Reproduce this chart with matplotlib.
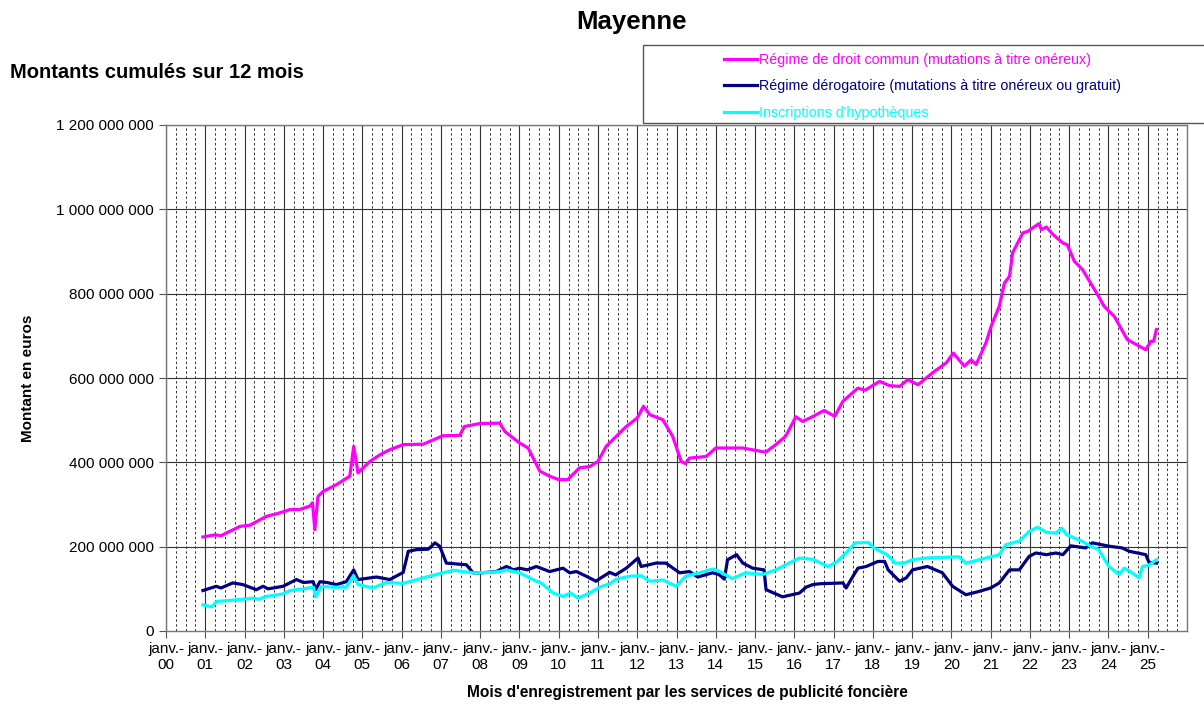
import matplotlib.pyplot as plt
from matplotlib.patches import Rectangle
from matplotlib.ticker import FuncFormatter

plt.rcParams['font.family'] = ['Liberation Sans', 'DejaVu Sans']

# values: (decimal year, millions of euros)
commun_dates = [2000.94, 2001.25, 2001.4, 2001.88, 2002.14, 2002.56, 2002.82, 2003.16, 2003.4,
                2003.66, 2003.73, 2003.79, 2003.87, 2004.0, 2004.34, 2004.68, 2004.78, 2004.89,
                2005.19, 2005.45, 2005.7, 2006.04, 2006.55, 2007.05, 2007.48, 2007.6, 2007.99,
                2008.5, 2008.63, 2009.0, 2009.22, 2009.52, 2009.77, 2010.0, 2010.23, 2010.53,
                2010.79, 2011.0, 2011.21, 2011.72, 2012.0, 2012.16, 2012.32, 2012.65, 2012.9,
                2013.12, 2013.23, 2013.33, 2013.76, 2014.0, 2014.68, 2015.27, 2015.53, 2015.78,
                2016.04, 2016.21, 2016.46, 2016.76, 2017.03, 2017.24, 2017.62, 2017.8, 2018.17,
                2018.42, 2018.68, 2018.89, 2019.15, 2019.53, 2019.87, 2020.05, 2020.33, 2020.5,
                2020.63, 2020.88, 2021.01, 2021.22, 2021.35, 2021.48, 2021.56, 2021.82, 2021.95,
                2022.07, 2022.23, 2022.29, 2022.42, 2022.59, 2022.84, 2022.95, 2023.13, 2023.34,
                2023.72, 2023.89, 2024.15, 2024.48, 2024.95, 2025.08, 2025.15, 2025.22]
commun_vals = [223, 228, 226, 248, 251, 272, 278, 288, 288,
               296, 304, 240, 319, 331, 347, 367, 438, 375,
               402, 418, 430, 442, 443, 463, 464, 485, 492,
               493, 473, 446, 434, 379, 367, 359, 359, 387,
               390, 402, 438, 485, 505, 533, 513, 501, 462,
               402, 397, 410, 414, 434, 434, 424, 442, 462,
               508, 497, 508, 523, 509, 545, 576, 571, 592,
               582, 580, 596, 584, 613, 636, 659, 628, 643,
               632, 683, 722, 770, 825, 841, 897, 944, 948,
               956, 966, 952, 958, 940, 920, 916, 877, 857,
               798, 770, 746, 691, 667, 687, 687, 715]

derog_dates = [2000.94, 2001.28, 2001.4, 2001.7, 2001.96, 2002.3, 2002.47, 2002.6, 2002.98,
               2003.32, 2003.5, 2003.75, 2003.81, 2003.92, 2004.1, 2004.34, 2004.59, 2004.78,
               2004.89, 2005.36, 2005.7, 2006.04, 2006.17, 2006.38, 2006.68, 2006.85, 2006.97,
               2007.14, 2007.65, 2007.82, 2008.05, 2008.41, 2008.67, 2008.85, 2009.0, 2009.2,
               2009.43, 2009.77, 2010.11, 2010.28, 2010.45, 2010.7, 2010.95, 2011.04, 2011.3,
               2011.45, 2011.72, 2012.02, 2012.1, 2012.48, 2012.73, 2013.08, 2013.33, 2013.54,
               2013.92, 2014.08, 2014.22, 2014.3, 2014.53, 2014.69, 2014.94, 2015.23, 2015.28,
               2015.7, 2016.13, 2016.3, 2016.47, 2016.64, 2017.24, 2017.32, 2017.45, 2017.62,
               2017.83, 2018.13, 2018.3, 2018.39, 2018.68, 2018.85, 2019.01, 2019.39, 2019.77,
               2020.03, 2020.37, 2020.71, 2021.0, 2021.22, 2021.48, 2021.73, 2021.98, 2022.15,
               2022.42, 2022.66, 2022.84, 2023.04, 2023.42, 2023.59, 2024.02, 2024.35, 2024.53,
               2024.95, 2025.03, 2025.22]
derog_vals = [96, 106, 102, 114, 110, 98, 106, 100, 106,
              122, 115, 117, 98, 117, 115, 110, 117, 145,
              122, 128, 122, 139, 189, 193, 194, 209, 201,
              161, 157, 138, 138, 141, 153, 145, 149, 145,
              153, 141, 149, 138, 141, 130, 118, 124, 139,
              133, 149, 173, 153, 161, 161, 138, 141, 128,
              138, 134, 123, 169, 181, 161, 149, 145, 98,
              81, 90, 104, 110, 112, 114, 102, 123, 149,
              153, 165, 165, 145, 118, 126, 145, 153, 138,
              106, 86, 94, 102, 114, 145, 145, 177, 185,
              181, 185, 181, 202, 197, 209, 201, 197, 189,
              181, 163, 161]

hypo_dates = [2000.94, 2001.16, 2001.29, 2001.8, 2002.23, 2002.35, 2002.56, 2002.98, 2003.16,
              2003.5, 2003.75, 2003.81, 2003.96, 2004.2, 2004.59, 2004.78, 2004.89, 2005.27,
              2005.61, 2006.04, 2006.55, 2007.05, 2007.31, 2007.82, 2008.24, 2008.5, 2008.67,
              2009.0, 2009.43, 2009.55, 2009.86, 2010.11, 2010.3, 2010.49, 2010.79, 2011.04,
              2011.3, 2011.47, 2011.81, 2012.1, 2012.32, 2012.65, 2012.99, 2013.24, 2013.59,
              2013.92, 2014.1, 2014.42, 2014.76, 2015.19, 2015.53, 2015.78, 2016.13, 2016.47,
              2016.86, 2017.07, 2017.32, 2017.55, 2017.89, 2018.02, 2018.36, 2018.57, 2018.8,
              2019.01, 2019.35, 2020.19, 2020.37, 2020.71, 2021.22, 2021.39, 2021.73, 2021.98,
              2022.19, 2022.42, 2022.66, 2022.81, 2022.94, 2023.32, 2023.54, 2023.75, 2024.01,
              2024.27, 2024.4, 2024.55, 2024.78, 2024.87, 2025.03, 2025.22]
hypo_vals = [62, 57, 70, 74, 78, 75, 82, 88, 96,
             100, 104, 81, 106, 104, 104, 131, 110, 102,
             115, 113, 126, 138, 144, 138, 139, 141, 145,
             138, 118, 114, 90, 82, 90, 78, 90, 104,
             112, 123, 130, 131, 118, 121, 106, 130, 138,
             147, 141, 124, 138, 134, 145, 157, 173, 170,
             153, 163, 185, 209, 210, 197, 181, 161, 161,
             169, 173, 176, 161, 169, 181, 205, 213, 236,
             246, 234, 232, 244, 228, 213, 201, 193, 153,
             134, 149, 141, 126, 153, 156, 169]

years = list(range(2000, 2026))
year_labels = ['janv.-\n%02d' % (y % 100) for y in years]

fig = plt.figure(figsize=(12.04, 7.10), dpi=100)
ax = fig.add_axes([166 / 1204, 1 - 631 / 710, (1187 - 166) / 1204, (631 - 125) / 710])

# grid: solid on each january, dashed on the quarters
for y in years:
    ax.axvline(y, color='#333333', lw=0.8, zorder=1)
    for q in (0.25, 0.5, 0.75):
        ax.axvline(y + q, color='#333333', lw=0.7, ls=(0, (2.5, 2.5)), zorder=1)
for v in range(200, 1201, 200):
    ax.axhline(v * 1e6, color='#333333', lw=0.8, zorder=1)

ax.plot(commun_dates, [v * 1e6 for v in commun_vals], color='#FF00FF', lw=2.3,
        label='Régime de droit commun (mutations à titre onéreux)', zorder=3)
ax.plot(derog_dates, [v * 1e6 for v in derog_vals], color='#000080', lw=2.3,
        label='Régime dérogatoire (mutations à titre onéreux ou gratuit)', zorder=3)
ax.plot(hypo_dates, [v * 1e6 for v in hypo_vals], color='#00FFFF', lw=2.3,
        label="Inscriptions d'hypothèques", zorder=3)

ax.set_xlim(2000, 2026)
ax.set_ylim(0, 1.2e9)
ax.set_xticks(years)
ax.set_xticklabels(year_labels, fontsize=11)
ax.set_yticks([i * 2e8 for i in range(7)])
ax.yaxis.set_major_formatter(FuncFormatter(lambda v, p: '{:,.0f}'.format(v).replace(',', ' ')))
ax.tick_params(axis='y', labelsize=11, length=5, width=0.8, color='#555555')
ax.tick_params(axis='x', length=5, width=0.8, color='#555555', pad=3)
for s in ax.spines.values():
    s.set_color('#777777')
    s.set_linewidth(1.0)

ax.set_ylabel('Montant en euros', fontsize=11, fontweight='bold')
ax.yaxis.set_label_coords((35 - 166) / 1021, 0.5)
fig.text(687 / 1204, 1 - 692 / 710, "Mois d'enregistrement par les services de publicité foncière",
         ha='center', va='center', fontsize=11.2, fontweight='bold')
fig.text(631 / 1204, 1 - 22 / 710, 'Mayenne', ha='center', va='center', fontsize=18.5, fontweight='bold')
fig.text(10 / 1204, 1 - 73 / 710, 'Montants cumulés sur 12 mois', ha='left', va='center',
         fontsize=14.5, fontweight='bold')

# legend box runs off the right edge
fig.patches.append(Rectangle((643 / 1204, 1 - 123 / 710), 600 / 1204, 78 / 710,
                             transform=fig.transFigure, facecolor='white', edgecolor='#555555',
                             lw=1.0, zorder=5))
leg = fig.legend(loc='upper left', bbox_to_anchor=(711 / 1204, 1 - 40 / 710), frameon=False,
                 fontsize=10.3, handlelength=2.3, handletextpad=0.15, labelspacing=0.88,
                 labelcolor='linecolor')
leg.set_zorder(6)

fig.savefig('out.png', dpi=100)
